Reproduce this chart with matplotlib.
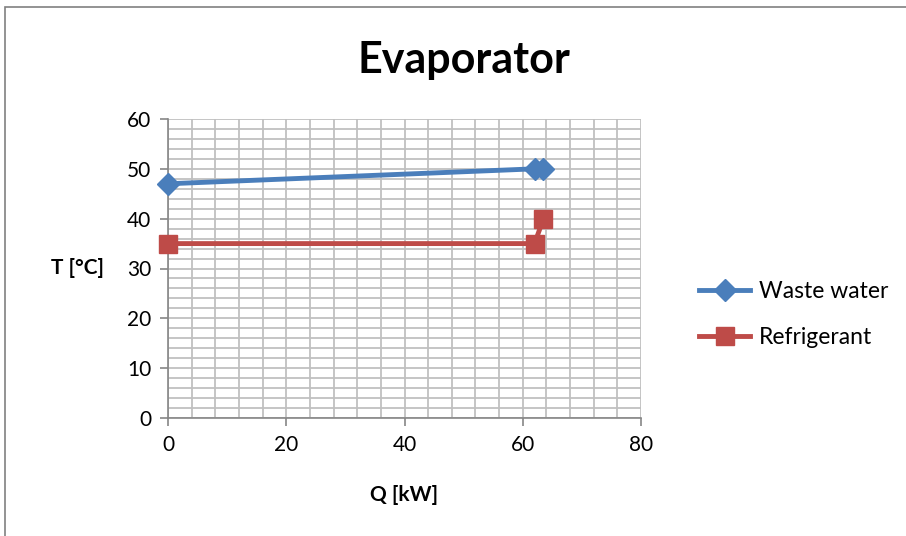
import numpy as np
import matplotlib.pyplot as plt
from matplotlib.ticker import MultipleLocator
from matplotlib.patches import Rectangle

plt.rcParams['font.family'] = ['Lato', 'DejaVu Sans']

# data
waste_q = [0, 62, 63.5]
waste_t = [47, 50, 50]
refr_q = [0, 62, 63.5]
refr_t = [35, 35, 40]

fig = plt.figure(figsize=(9.06, 5.36), dpi=100)
ax = fig.add_axes([168/906, 1-418/536, (641-168)/906, (418-119)/536])

# outer chart frame
fig.patches.append(Rectangle((5/906, -0.02), 1.1, 1-7/536+0.02, transform=fig.transFigure,
                             fill=False, edgecolor='#808080', linewidth=1.2))

ax.plot(waste_q, waste_t, color='#4a7ebb', linewidth=3.5, marker='D', markersize=11,
        label='Waste water', zorder=4, clip_on=False)
ax.plot(refr_q, refr_t, color='#be4b48', linewidth=3.5, marker='s', markersize=13,
        label='Refrigerant', zorder=3, clip_on=False)

ax.set_xlim(0, 80)
ax.set_ylim(0, 60)
ax.xaxis.set_major_locator(MultipleLocator(20))
ax.xaxis.set_minor_locator(MultipleLocator(4))
ax.yaxis.set_major_locator(MultipleLocator(10))
ax.yaxis.set_minor_locator(MultipleLocator(2))
ax.grid(which='both', color='#c0c0c0', linewidth=1.3)
ax.set_axisbelow(True)
ax.tick_params(which='minor', length=0)
ax.tick_params(which='major', length=6, color='#868686', width=1.2, labelsize=15, pad=6)
for s in ['top', 'right']:
    ax.spines[s].set_visible(False)
for s in ['left', 'bottom']:
    ax.spines[s].set_color('#868686')
    ax.spines[s].set_linewidth(1.2)

fig.text(464/906, 1-60/536, 'Evaporator', fontsize=31, fontweight='bold', ha='center', va='center')
ax.set_xlabel('Q [kW]', fontsize=15, fontweight='bold', labelpad=22)
ax.set_ylabel('T [°C]', fontsize=15, fontweight='bold', rotation=0, labelpad=36, va='center')

ax.legend(loc='center left', bbox_to_anchor=(1.08, 0.345), frameon=False, fontsize=16.5,
          handlelength=2.2, labelspacing=1.1, handletextpad=0.4)

fig.savefig('out.png', dpi=100)
